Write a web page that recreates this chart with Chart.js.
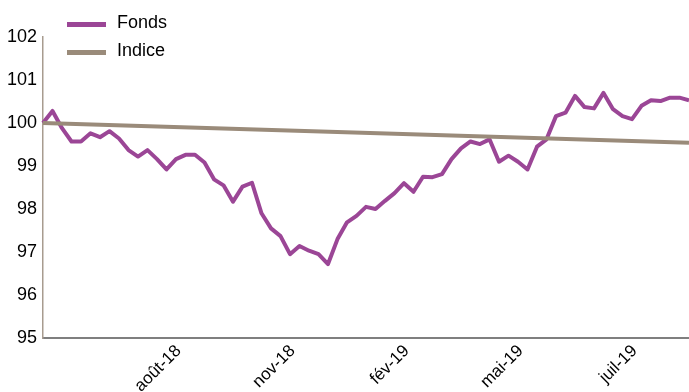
<!DOCTYPE html>
<html>
<head>
<meta charset="utf-8">
<script src="https://cdn.jsdelivr.net/npm/chart.js@4/dist/chart.umd.min.js"></script>
<style>
  html, body { margin: 0; padding: 0; background: #fff; }
  #wrap { position: relative; width: 689px; height: 392px; }
  #legende { position: absolute; left: 67px; top: 8px; font-family: 'Liberation Sans', Arial, sans-serif; font-size: 18px; color: #000; }
  .item { display: flex; align-items: center; height: 28px; }
  .trait { width: 39px; height: 5px; margin-right: 11px; margin-top: 4px; }
</style>
</head>
<body>
<div id="wrap">
  <canvas id="grafico" width="689" height="392"></canvas>
  <div id="legende"></div>
</div>
<script>
// dates hebdomadaires (vendredis)
const dates = [
  '2018-05-11','2018-05-18','2018-05-25','2018-06-01','2018-06-08','2018-06-15','2018-06-22','2018-06-29',
  '2018-07-06','2018-07-13','2018-07-20','2018-07-27','2018-08-03','2018-08-10','2018-08-17','2018-08-24',
  '2018-08-31','2018-09-07','2018-09-14','2018-09-21','2018-09-28','2018-10-05','2018-10-12','2018-10-19',
  '2018-10-26','2018-11-02','2018-11-09','2018-11-16','2018-11-23','2018-11-30','2018-12-07','2018-12-14',
  '2018-12-21','2018-12-28','2019-01-04','2019-01-11','2019-01-18','2019-01-25','2019-02-01','2019-02-08',
  '2019-02-15','2019-02-22','2019-03-01','2019-03-08','2019-03-15','2019-03-22','2019-03-29','2019-04-05',
  '2019-04-12','2019-04-19','2019-04-26','2019-05-03','2019-05-10','2019-05-17','2019-05-24','2019-05-31',
  '2019-06-07','2019-06-14','2019-06-21','2019-06-28','2019-07-05','2019-07-12','2019-07-19','2019-07-26',
  '2019-08-02','2019-08-09','2019-08-16','2019-08-23','2019-08-30'
];

const fonds = [
  100.00, 100.28, 99.88, 99.57, 99.57, 99.76, 99.67, 99.81,
  99.64, 99.37, 99.22, 99.37, 99.16, 98.92, 99.16, 99.26,
  99.26, 99.08, 98.69, 98.55, 98.17, 98.52, 98.61, 97.90,
  97.55, 97.37, 96.95, 97.14, 97.03, 96.95, 96.72, 97.30,
  97.69, 97.84, 98.05, 98.00, 98.19, 98.37, 98.60, 98.40,
  98.75, 98.74, 98.81, 99.16, 99.41, 99.57, 99.51, 99.62,
  99.10, 99.24, 99.10, 98.92, 99.45, 99.62, 100.16, 100.24,
  100.63, 100.37, 100.34, 100.70, 100.32, 100.16, 100.09, 100.40,
  100.53, 100.51, 100.59, 100.59, 100.53
];

// l'indice est une droite : valeurs lues au début et à la fin
const indiceDates = ['2018-05-11', '2019-08-30'];
const indiceValeurs = [100.00, 99.54];

// étiquettes affichées sur l'axe des x
const tickDates = ['2018-08-24', '2018-11-16', '2019-02-08', '2019-05-03', '2019-07-26'];
const tickLabels = ['août-18', 'nov-18', 'fév-19', 'mai-19', 'juil-19'];

const yMin = 95, yMax = 102;

const series = [
  { label: 'Fonds', color: '#9b4696' },
  { label: 'Indice', color: '#9a8b7a' }
];

const police = "'Liberation Sans', Arial, sans-serif";

// légende
const leg = document.getElementById('legende');
series.forEach(s => {
  const row = document.createElement('div');
  row.className = 'item';
  row.innerHTML = `<span class="trait" style="background:${s.color}"></span><span>${s.label}</span>`;
  leg.appendChild(row);
});

const ctx = document.getElementById('grafico').getContext('2d');
new Chart(ctx, {
  type: 'line',
  data: {
    labels: dates,
    datasets: [
      {
        label: series[0].label,
        data: fonds,
        borderColor: series[0].color,
        borderWidth: 4,
        pointRadius: 0,
        tension: 0,
        borderJoinStyle: 'round',
        order: 1
      },
      {
        label: series[1].label,
        data: indiceDates.map((d, i) => ({ x: d, y: indiceValeurs[i] })),
        borderColor: series[1].color,
        borderWidth: 4,
        pointRadius: 0,
        tension: 0,
        order: 0
      }
    ]
  },
  options: {
    responsive: false,
    animation: false,
    layout: { padding: { top: 37, right: 0, left: 0, bottom: 0 } },
    plugins: { legend: { display: false }, tooltip: { enabled: false } },
    scales: {
      x: {
        grid: { display: false, drawTicks: false },
        border: { color: '#7f7f7f', width: 2 },
        afterFit: s => { s.height = 54; s.paddingRight = 0; s.paddingLeft = 0; },
        ticks: {
          autoSkip: false,
          minRotation: 45,
          maxRotation: 45,
          padding: 3,
          labelOffset: -7,
          color: '#000',
          font: { family: police, size: 17 },
          callback: (v, i) => {
            const k = tickDates.indexOf(dates[i]);
            return k >= 0 ? tickLabels[k] : '';
          }
        }
      },
      y: {
        min: yMin,
        max: yMax,
        grid: { display: false, drawTicks: false },
        border: { color: '#a89c8f', width: 1.5 },
        afterFit: s => { s.width = 43; },
        ticks: {
          stepSize: 1,
          padding: 6,
          color: '#000',
          font: { family: police, size: 18 }
        }
      }
    }
  }
});
</script>
</body>
</html>
